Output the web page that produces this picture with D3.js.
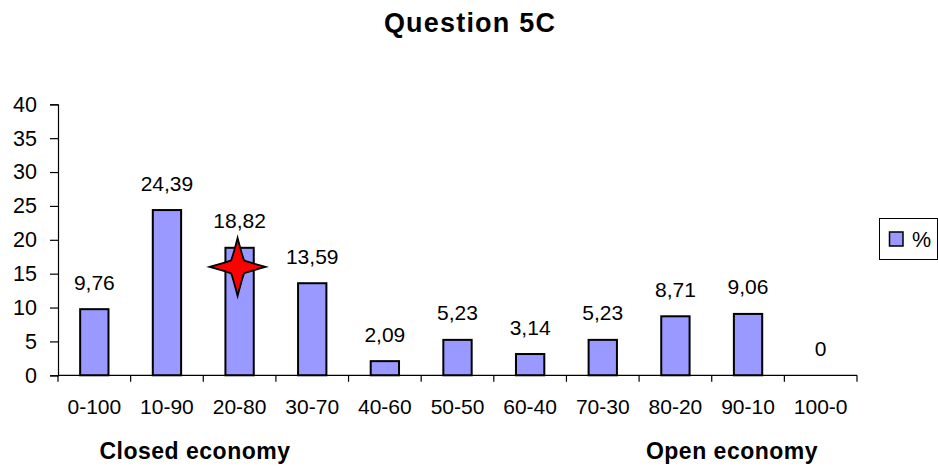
<!DOCTYPE html>
<html>
<head>
<meta charset="utf-8">
<script src="https://cdn.jsdelivr.net/npm/d3@7"></script>
<style>
  html, body { margin: 0; padding: 0; background: #ffffff; }
  svg { display: block; font-family: "Liberation Sans", Arial, sans-serif; }
</style>
</head>
<body>
<svg id="chart" width="938" height="468"></svg>
<script>
// Share of answers per closed/open split
const categories = ["0-100", "10-90", "20-80", "30-70", "40-60", "50-50", "60-40", "70-30", "80-20", "90-10", "100-0"];
const percentValues = [9.76, 24.39, 18.82, 13.59, 2.09, 5.23, 3.14, 5.23, 8.71, 9.06, 0];
const valueLabels = ["9,76", "24,39", "18,82", "13,59", "2,09", "5,23", "3,14", "5,23", "8,71", "9,06", "0"];
const yTicks = [0, 5, 10, 15, 20, 25, 30, 35, 40];
const seriesName = "%";
const titleText = "Question 5C";
const endLabels = ["Closed economy", "Open economy"];
// Star marker placed on one of the bars
const markerCategory = "20-80";
const markerValue = 16;

const svg = d3.select("#chart");
const plot = { left: 58, right: 857, top: 104.3, bottom: 375.3 };

const x = d3.scaleBand().domain(categories).range([plot.left, plot.right]).padding(0);
const y = d3.scaleLinear().domain([0, 40]).range([plot.bottom, plot.top]);
const barW = x.bandwidth() * 0.39;

// Title
svg.append("text")
  .attr("x", 470).attr("y", 32)
  .attr("text-anchor", "middle")
  .attr("font-size", 27).attr("font-weight", "bold")
  .attr("letter-spacing", "1.2px")
  .text(titleText);

// Bars
svg.append("g").selectAll("rect")
  .data(categories.map((c, i) => ({ c, v: percentValues[i] })))
  .join("rect")
  .attr("x", d => x(d.c) + x.bandwidth() / 2 - barW / 2)
  .attr("y", d => y(d.v))
  .attr("width", barW)
  .attr("height", d => plot.bottom - y(d.v))
  .attr("fill", "#9999FF")
  .attr("stroke", "#000")
  .attr("stroke-width", 2)
  .attr("display", d => d.v > 0 ? null : "none");

// Y axis
const yAxis = svg.append("g")
  .attr("transform", `translate(${plot.left},0)`)
  .call(d3.axisLeft(y).tickValues(yTicks).tickSize(8).tickPadding(13).tickFormat(d3.format("d")));
yAxis.select(".domain").attr("stroke", "#000").attr("stroke-width", 1.2);
yAxis.selectAll(".tick line").attr("stroke", "#000").attr("stroke-width", 1.2);
yAxis.selectAll(".tick text")
  .attr("font-size", 21.5).attr("fill", "#000")
  .attr("font-family", "Liberation Sans, Arial, sans-serif");

// X axis: ticks sit on band boundaries, labels at band centres
const xAxisG = svg.append("g").attr("transform", `translate(0,${plot.bottom})`);
xAxisG.append("line")
  .attr("x1", plot.left).attr("x2", plot.right)
  .attr("stroke", "#000").attr("stroke-width", 1.2);
const boundaries = categories.map(c => x(c)).concat([x(categories[categories.length - 1]) + x.bandwidth()]);
xAxisG.selectAll("line.tk")
  .data(boundaries)
  .join("line")
  .attr("class", "tk")
  .attr("x1", d => d).attr("x2", d => d)
  .attr("y1", 0).attr("y2", 6.5)
  .attr("stroke", "#000").attr("stroke-width", 1.2);
xAxisG.selectAll("text")
  .data(categories)
  .join("text")
  .attr("x", d => x(d) + x.bandwidth() / 2)
  .attr("y", 38.5)
  .attr("text-anchor", "middle")
  .attr("font-size", 21)
  .text(d => d);

// Value labels above bars
svg.append("g").selectAll("text")
  .data(categories.map((c, i) => ({ c, v: percentValues[i], t: valueLabels[i] })))
  .join("text")
  .attr("x", d => x(d.c) + x.bandwidth() / 2)
  .attr("y", d => y(d.v) - 19.5)
  .attr("text-anchor", "middle")
  .attr("font-size", 21)
  .text(d => d.t);

// Four-pointed star marker with narrow arms
const sx = x(markerCategory) + x.bandwidth() / 2 - 2;
const sy = y(markerValue);
const armH = 28, armUp = 29, armDown = 29, inner = 6.5;
const starPath = [
  `M${sx},${sy - armUp}`,
  `Q${sx + inner * 0.75},${sy - inner * 1.6} ${sx + inner},${sy - inner}`,
  `Q${sx + inner * 1.6},${sy - inner * 0.75} ${sx + armH},${sy}`,
  `Q${sx + inner * 1.6},${sy + inner * 0.75} ${sx + inner},${sy + inner}`,
  `Q${sx + inner * 0.75},${sy + inner * 1.6} ${sx},${sy + armDown}`,
  `Q${sx - inner * 0.75},${sy + inner * 1.6} ${sx - inner},${sy + inner}`,
  `Q${sx - inner * 1.6},${sy + inner * 0.75} ${sx - armH},${sy}`,
  `Q${sx - inner * 1.6},${sy - inner * 0.75} ${sx - inner},${sy - inner}`,
  `Q${sx - inner * 0.75},${sy - inner * 1.6} ${sx},${sy - armUp}`,
  "Z"
].join(" ");
svg.append("path")
  .attr("d", starPath)
  .attr("fill", "#FF0000")
  .attr("stroke", "#000")
  .attr("stroke-width", 1.8)
  .attr("stroke-linejoin", "miter");

// End labels under the axis
svg.append("text")
  .attr("x", 195).attr("y", 459)
  .attr("text-anchor", "middle")
  .attr("font-size", 23).attr("font-weight", "bold")
  .attr("letter-spacing", "0.5px")
  .text(endLabels[0]);
svg.append("text")
  .attr("x", 732).attr("y", 459)
  .attr("text-anchor", "middle")
  .attr("font-size", 23).attr("font-weight", "bold")
  .attr("letter-spacing", "0.5px")
  .text(endLabels[1]);

// Legend
const lg = svg.append("g");
lg.append("rect")
  .attr("x", 879.5).attr("y", 218.5)
  .attr("width", 58).attr("height", 41)
  .attr("fill", "#fff").attr("stroke", "#000").attr("stroke-width", 1);
lg.append("rect")
  .attr("x", 889.5).attr("y", 232)
  .attr("width", 13.5).attr("height", 14)
  .attr("fill", "#9999FF").attr("stroke", "#000").attr("stroke-width", 1.5);
lg.append("text")
  .attr("x", 912).attr("y", 246.5)
  .attr("font-size", 21.5)
  .text(seriesName);
</script>
</body>
</html>
